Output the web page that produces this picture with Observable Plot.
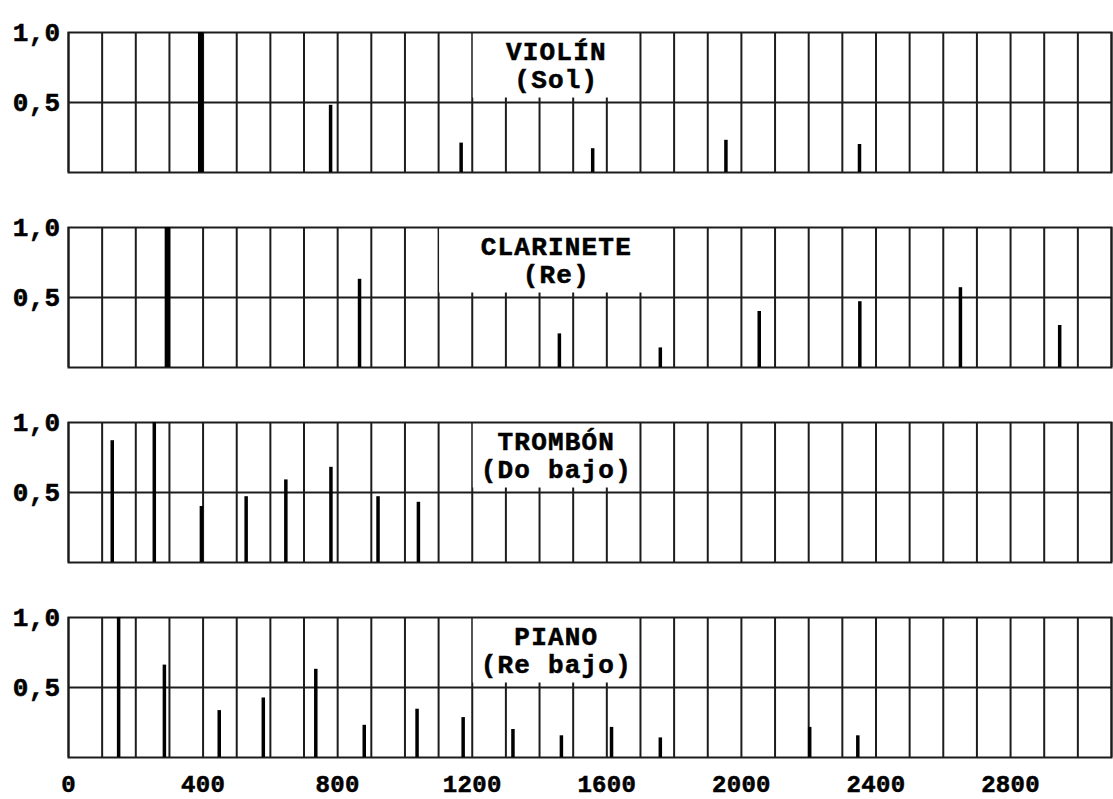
<!DOCTYPE html>
<html><head><meta charset="utf-8">
<script src="https://cdn.jsdelivr.net/npm/d3@7"></script>
<script src="https://cdn.jsdelivr.net/npm/@observablehq/plot@0.6"></script>
<style>
html,body{margin:0;padding:0;background:#fff}
#chart svg{display:block}
#chart text{stroke:#000;stroke-width:0.55px}
#chart g[aria-label="text"] text{letter-spacing:1.2px}
#chart g[aria-label$="tick label"] text{letter-spacing:0.3px}
</style></head><body><div id="chart"></div><script>
const instruments = ["VIOLÍN", "CLARINETE", "TROMBÓN", "PIANO"];
const notes = ["(Sol)", "(Re)", "(Do bajo)", "(Re bajo)"];

const violinFreq = [393, 779, 1167, 1558, 1954, 2351];
const violinAmp  = [1.0, 0.48, 0.21, 0.17, 0.23, 0.20];
const clarinetFreq = [294, 865, 1459, 1759, 2053, 2352, 2651, 2946];
const clarinetAmp  = [1.0, 0.63, 0.24, 0.14, 0.40, 0.47, 0.57, 0.30];
const tromboneFreq = [130, 255, 395, 528, 646, 780, 920, 1040];
const tromboneAmp  = [0.87, 1.0, 0.40, 0.47, 0.59, 0.68, 0.47, 0.43];
const pianoFreq = [149, 285, 448, 579, 735, 879, 1036, 1173, 1321, 1465, 1614, 1759, 2203, 2346];
const pianoAmp  = [1.0, 0.66, 0.335, 0.425, 0.63, 0.23, 0.345, 0.285, 0.20, 0.155, 0.215, 0.14, 0.215, 0.155];

const xTicks = [0, 400, 800, 1200, 1600, 2000, 2400, 2800];
const yTicks = [0.5, 1.0];
const yTickLabels = ["0,5", "1,0"];

// layout constants
const xMax = 3100;
const xGrid = d3.range(0, xMax + 1, 100);
const boxStart = [1200, 1100, 1200, 1200];
const boxEnd   = [1700, 1800, 1700, 1700];
const boxBottom = 0.532;
const line1Y = 0.807, line2Y = 0.607;

const freqs = [violinFreq, clarinetFreq, tromboneFreq, pianoFreq];
const amps = [violinAmp, clarinetAmp, tromboneAmp, pianoAmp];
const thickFundamental = new Set(["VIOLÍN", "CLARINETE"]);

const rows = instruments.flatMap((inst, i) =>
  freqs[i].map((f, k) => ({inst, f, a: amps[i][k], k})));
const boxes = instruments.map((inst, i) => ({inst, x1: boxStart[i], x2: boxEnd[i], name: inst, note: notes[i]}));

const FONT = "Liberation Mono";
const ink = "#1c1c1c";

const chart = Plot.plot({
  width: 1113,
  height: 799,
  marginLeft: 68,
  marginRight: 2,
  marginTop: 31,
  marginBottom: 42,
  style: {fontFamily: FONT, fontSize: "26px", fontWeight: "bold", color: "#000", background: "#fff"},
  x: {domain: [0, xMax], label: null},
  y: {domain: [0, 1], label: null},
  fy: {domain: instruments, axis: null, label: null, paddingInner: 0.2833, paddingOuter: 0},
  marks: [
    Plot.ruleX(xGrid, {stroke: ink, strokeWidth: 2}),
    Plot.ruleY([0.5], {stroke: ink, strokeWidth: 2}),
    Plot.rect(boxes, {x1: "x1", x2: "x2", y1: boxBottom, y2: 1, fy: "inst", fill: "#fff", insetLeft: 1, insetRight: 1, insetTop: 1}),
    Plot.frame({stroke: ink, strokeWidth: 2}),
    Plot.ruleX(rows, {x: "f", y1: 0, y2: "a", fy: "inst", stroke: "#000",
      strokeWidth: d => (d.k === 0 && thickFundamental.has(d.inst)) ? 5.5 : 3.5}),
    Plot.text(boxes, {x: d => (d.x1 + d.x2) / 2, y: line1Y, text: "name", fy: "inst", lineAnchor: "bottom", fill: "#000"}),
    Plot.text(boxes, {x: d => (d.x1 + d.x2) / 2, y: line2Y, text: "note", fy: "inst", lineAnchor: "bottom", fill: "#000"}),
    Plot.axisY({ticks: yTicks, tickFormat: d => yTickLabels[yTicks.indexOf(d)], tickSize: 0, tickPadding: 8, label: null}),
    Plot.axisX({ticks: xTicks, tickFormat: d => String(d), tickSize: 0, tickPadding: 17, fontSize: 24, label: null})
  ]
});
document.getElementById("chart").appendChild(chart);
</script></body></html>
